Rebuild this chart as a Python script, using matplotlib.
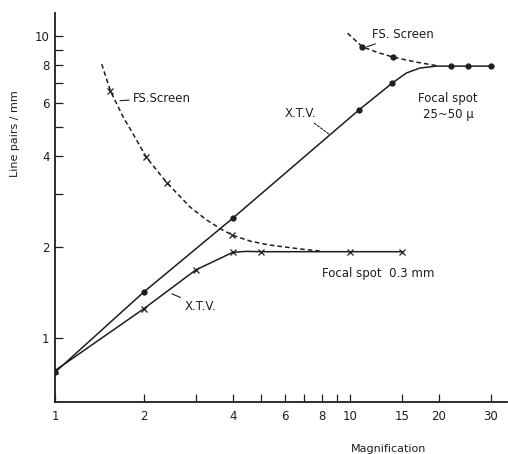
"""
Resolving power (line pairs / mm) against magnification for X.T.V. and
FS screen, two focal spot sizes, on log-log axes.
"""

import matplotlib.pyplot as plt
from matplotlib.ticker import FixedLocator, FixedFormatter, NullLocator

# X.T.V., focal spot 25~50 micron (solid line, dots)
xtv_small_x = [1, 2, 4, 10.7, 13.9, 15.5, 17.2, 19.6, 22, 25, 30]
xtv_small_y = [0.77, 1.42, 2.49, 5.68, 6.98, 7.53, 7.82, 7.94, 7.94, 7.94, 7.94]
xtv_small_mx = [1, 2, 4, 10.7, 13.9, 22, 25, 30]
xtv_small_my = [0.77, 1.42, 2.49, 5.68, 6.98, 7.94, 7.94, 7.94]

# FS screen, focal spot 25~50 micron (dashed line, dots)
fs_small_x = [9.8, 11.0, 12.3, 14.0, 16.8, 19.6]
fs_small_y = [10.2, 9.2, 8.83, 8.5, 8.18, 7.97]
fs_small_mx = [11.0, 14.0]
fs_small_my = [9.2, 8.5]

# X.T.V., focal spot 0.3 mm (solid line, crosses)
xtv_big_x = [1, 2, 3, 4, 4.45, 5, 10, 15]
xtv_big_y = [0.78, 1.25, 1.68, 1.92, 1.935, 1.93, 1.93, 1.93]
xtv_big_mx = [1, 2, 3, 4, 5, 10, 15]
xtv_big_my = [0.78, 1.25, 1.68, 1.92, 1.93, 1.93, 1.93]

# FS screen, focal spot 0.3 mm (dashed line, crosses)
fs_big_x = [1.44, 1.54, 1.70, 1.89, 2.04, 2.39, 2.86, 3.26, 3.66, 3.99,
            4.6, 5.34, 6.92, 7.88]
fs_big_y = [8.06, 6.58, 5.40, 4.52, 3.96, 3.27, 2.72, 2.46, 2.29, 2.19,
            2.09, 2.03, 1.966, 1.94]
fs_big_mx = [1.54, 2.04, 2.39, 3.99]
fs_big_my = [6.58, 3.96, 3.27, 2.19]

x_ticks = [1, 2, 3, 4, 5, 6, 7, 8, 9, 10, 15, 20, 30]
x_labels = ["1", "2", "", "4", "", "6", "", "8", "", "10", "15", "20", "30"]
y_ticks = [1, 2, 3, 4, 5, 6, 7, 8, 9, 10]
y_labels = ["1", "2", "", "4", "", "6", "", "8", "", "10"]

ink = "#1e1e1e"
fs = 8.5

fig = plt.figure(figsize=(5.08, 4.54), dpi=100)
ax = fig.add_axes([55 / 508, 1 - 402 / 454, 452 / 508, 389 / 454])
ax.set_xscale("log")
ax.set_yscale("log")
ax.set_xlim(1, 34)
ax.set_ylim(0.614, 11.9)

dash = (0, (3, 2))
ax.plot(xtv_small_x, xtv_small_y, color=ink, lw=1.1)
ax.plot(xtv_small_mx, xtv_small_my, "o", color=ink, ms=3.5)
ax.plot(fs_small_x, fs_small_y, color=ink, lw=1.1, ls=dash)
ax.plot(fs_small_mx, fs_small_my, "o", color=ink, ms=3.5)
ax.plot(xtv_big_x, xtv_big_y, color=ink, lw=1.1)
ax.plot(xtv_big_mx, xtv_big_my, "x", color=ink, ms=5, mew=0.9)
ax.plot(fs_big_x, fs_big_y, color=ink, lw=1.1, ls=dash)
ax.plot(fs_big_mx, fs_big_my, "x", color=ink, ms=5, mew=0.9)

lead = dict(arrowstyle="-", color=ink, lw=0.8, shrinkA=1, shrinkB=0)
ax.annotate("FS.Screen", xy=(1.66, 6.1), xytext=(1.84, 6.22), fontsize=fs,
            color=ink, ha="left", va="center", arrowprops=lead)
ax.annotate("FS. Screen", xy=(11.4, 9.2), xytext=(11.9, 10.13), fontsize=fs,
            color=ink, ha="left", va="center", arrowprops=lead)
ax.annotate("X.T.V.", xy=(8.5, 4.72), xytext=(7.7, 5.55), fontsize=fs,
            color=ink, ha="right", va="center",
            arrowprops=dict(lead, ls=(0, (2, 1.5))))
ax.annotate("X.T.V.", xy=(2.49, 1.4), xytext=(2.75, 1.276), fontsize=fs,
            color=ink, ha="left", va="center", arrowprops=lead)
ax.text(17.0, 6.22, "Focal spot", fontsize=fs, color=ink, ha="left", va="center")
ax.text(17.6, 5.47, "25~50 µ", fontsize=fs, color=ink, ha="left", va="center",
        clip_on=False)
ax.text(8.0, 1.64, "Focal spot  0.3 mm", fontsize=fs, color=ink,
        ha="left", va="center")

for side in ["top", "right"]:
    ax.spines[side].set_visible(False)
for side in ["left", "bottom"]:
    ax.spines[side].set_linewidth(1.3)
    ax.spines[side].set_color(ink)

ax.xaxis.set_major_locator(FixedLocator(x_ticks))
ax.xaxis.set_major_formatter(FixedFormatter(x_labels))
ax.xaxis.set_minor_locator(NullLocator())
ax.yaxis.set_major_locator(FixedLocator(y_ticks))
ax.yaxis.set_major_formatter(FixedFormatter(y_labels))
ax.yaxis.set_minor_locator(NullLocator())
ax.tick_params(direction="in", length=6, width=0.9, color=ink,
               labelsize=fs, labelcolor=ink)
ax.tick_params(axis="x", pad=6)
ax.tick_params(axis="y", pad=4)

fig.text(389 / 508, 1 - 449 / 454, "Magnification", fontsize=fs - 0.5,
         color=ink, ha="center", va="center")
fig.text(15 / 508, 1 - 134 / 454, "Line pairs / mm", fontsize=fs - 0.5,
         color=ink, ha="center", va="center", rotation=90)

fig.savefig("out.png", dpi=100)
